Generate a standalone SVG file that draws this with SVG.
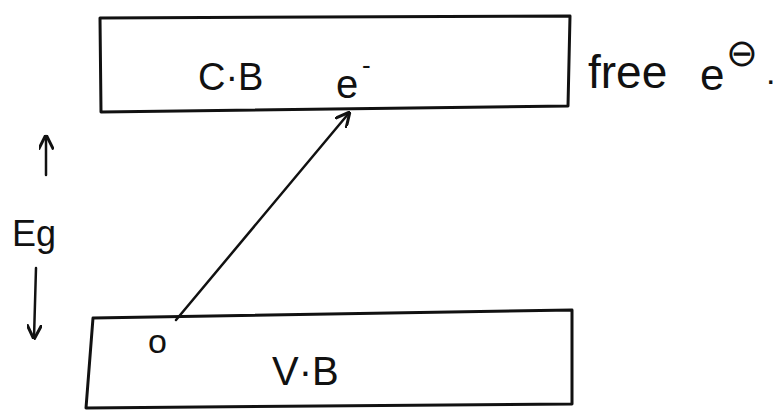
<svg xmlns="http://www.w3.org/2000/svg" width="784" height="412" viewBox="0 0 784 412">
<style>
.band{fill:none;stroke:#111;stroke-width:3;stroke-linejoin:round}
.lbl{font-family:"Liberation Sans",Arial,sans-serif;fill:#111}
.ln{fill:none;stroke:#111;stroke-width:2.5;stroke-linecap:round}
</style>
<defs>
<marker id="ah" viewBox="0 0 10 10" refX="9" refY="5" markerWidth="6" markerHeight="6" orient="auto-start-reverse">
<path d="M0,0 L10,5 L0,10" fill="none" stroke="#111" stroke-width="2"/>
</marker>
</defs>
<rect width="784" height="412" fill="#fff"/>
<g id="cb">
<path class="band" d="M100,18 L570,16 L568,106 L101,112 Z"/>
<text class="lbl" x="198" y="90" font-size="38">C·B</text>
</g>
<g id="vb">
<path class="band" d="M93,318 L572,310 L572,404 L86,408 Z"/>
<text class="lbl" x="272" y="385" font-size="40">V·B</text>
<text class="lbl" x="148" y="353" font-size="34">o</text>
</g>
<g id="electron">
<text class="lbl" x="336" y="98" font-size="40">e</text>
<text class="lbl" x="362" y="74" font-size="26">-</text>
</g>
<g id="free">
<text class="lbl" x="588" y="88" font-size="46">free</text>
<text class="lbl" x="700" y="90" font-size="44">e</text>
<text class="lbl" x="726" y="66" font-size="38">⊖</text>
<text class="lbl" x="766" y="84" font-size="34">.</text>
</g>
<g id="eg">
<text class="lbl" x="12" y="246" font-size="36">Eg</text>
</g>
<g id="connectors">
<line class="ln" x1="176" y1="320" x2="349" y2="113" marker-end="url(#ah)"/>
<line class="ln" x1="46" y1="175" x2="46" y2="136" marker-end="url(#ah)"/>
<line class="ln" x1="36" y1="268" x2="34" y2="338" marker-end="url(#ah)"/>
</g>
</svg>
